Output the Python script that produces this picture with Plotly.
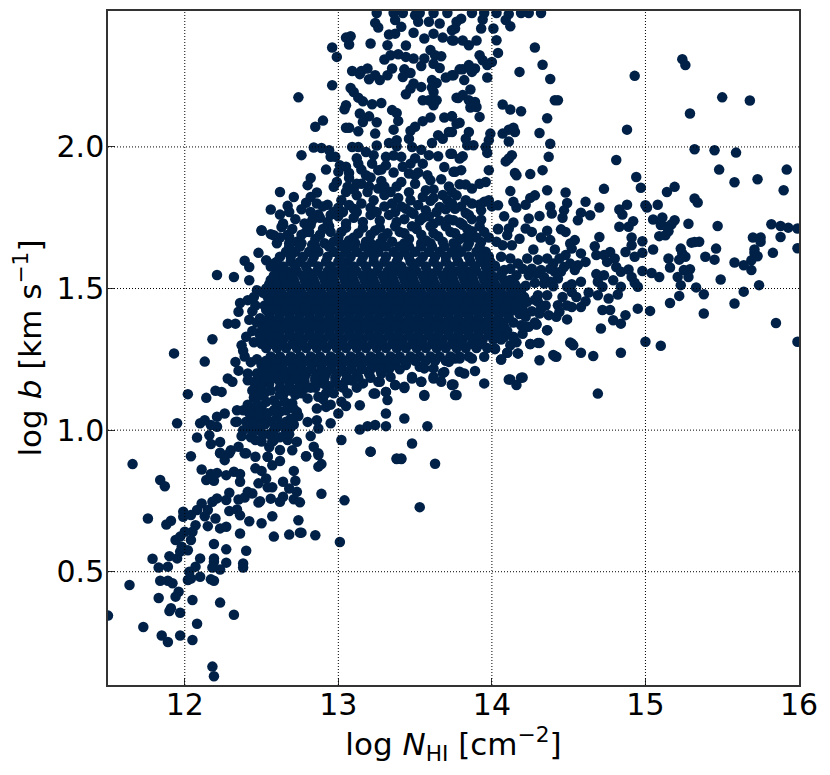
import plotly.graph_objects as go

# (log N_HI, log b), one list per region
far_right = [(15.48,1.92),(15.58,1.875),(15.73,1.886),(15.92,1.92),(15.90,1.847),(14.94,1.894),(14.97,1.856),(14.73,1.852),(15.19,1.859),(15.14,1.841),(15.32,1.818),(15.34,1.804),(15.08,1.796),(15.0,1.794),(15.01,1.786),(14.88,1.796),(14.83,1.779),(14.85,1.761),(14.70,1.786),(14.61,1.806),(14.64,1.759),(14.58,1.768),(14.56,1.741),(14.48,1.839),(14.49,1.802),(14.47,1.776),(14.46,1.75),(14.36,1.847),(14.28,1.829),(14.25,1.82),(14.22,1.796),(14.16,1.786),(14.14,1.806),(14.38,1.79),(14.39,1.765),(14.12,1.844),(14.08,1.755),(14.04,1.794),(14.0,1.79),(14.31,1.756),(14.24,1.747),(14.25,1.904),(14.16,1.9),(14.15,1.908),(14.33,1.918),(15.05,1.744),(15.11,1.751),(15.19,1.741),(15.17,1.727),(15.14,1.718),(15.10,1.724),(15.28,1.729),(15.47,1.721),(15.82,1.727),(15.88,1.721),(15.93,1.715),(15.99,1.712),(14.92,1.738),(14.89,1.718),(14.83,1.718),(14.48,1.7),(14.45,1.709),(14.36,1.704),(14.04,1.709),(14.70,1.682),(14.91,1.68),(14.98,1.667),(15.13,1.688),(15.09,1.685),(15.15,1.702),(15.30,1.662),(15.35,1.665),(15.32,1.664),(15.70,1.68),(15.75,1.68),(15.75,1.665),(15.88,1.682),(15.99,1.642),(15.83,1.626),(15.71,1.638),(15.71,1.626),(15.73,1.614),(15.69,1.6),(15.64,1.582),(15.58,1.592),(15.69,1.565),(15.46,1.641),(15.45,1.602),(15.39,1.612),(15.23,1.641),(15.24,1.624),(15.26,1.612),(15.22,1.602),(15.15,1.606),(15.16,1.574),(15.05,1.638),(14.98,1.626),(14.93,1.612),(14.87,1.629),(14.91,1.653),(15.29,1.568),(15.25,1.565),(15.28,1.541),(15.21,1.541),(15.23,1.512),(15.33,1.504),(15.22,1.474),(15.38,1.48),(15.49,1.532),(15.74,1.512),(15.64,1.489),(15.58,1.447),(15.38,1.412),(15.85,1.378),(15.99,1.312),(15.10,1.298),(15.0,1.312),(15.16,1.449),(15.03,1.421),(14.95,1.429),(15.09,1.541),(15.04,1.555),(14.98,1.562),(14.89,1.567),(14.91,1.541),(14.95,1.506),(14.93,1.52),(14.84,1.506),(14.82,1.479),(14.79,1.529),(14.73,1.547),(14.68,1.551),(14.69,1.524),(14.72,1.506),(14.69,1.476),(14.63,1.486),(14.58,1.524),(14.52,1.515),(14.49,1.506),(14.52,1.488),(14.61,1.455),(14.58,1.435),(14.52,1.435),(14.76,1.465),(14.72,1.424),(14.77,1.424),(14.79,1.388),(14.87,1.406),(14.84,1.376),(14.71,1.359),(14.51,1.309),(14.53,1.3),(14.30,1.308),(14.25,1.304),(14.36,1.353),(14.29,1.373),(14.40,1.265),(14.42,1.259),(14.58,1.273),(14.66,1.262),(14.84,1.273),(14.31,1.247),(14.17,1.271),(14.10,1.273),(14.06,1.249),(14.02,1.286),(14.69,1.129),(14.19,1.185),(14.11,1.179),(14.16,1.159),(13.95,1.165),(13.89,1.209),(13.82,1.2),(13.79,1.206),(13.75,1.161),(13.77,1.124)]

right_band = [(14.67,1.649),(14.68,1.618),(14.73,1.618),(14.77,1.629),(14.80,1.606),(14.75,1.594),(14.81,1.576),(14.84,1.559),(14.58,1.624),(14.61,1.594),(14.56,1.582),(14.54,1.671),(14.51,1.659),(14.52,1.641),(14.48,1.618),(14.41,1.638),(14.44,1.606),(14.51,1.588),(14.54,1.565),(14.47,1.576),(14.40,1.588),(14.41,1.559),(14.43,1.535),(14.38,1.524),(14.34,1.518),(14.40,1.508),(14.32,1.565),(14.36,1.606),(14.30,1.602),(14.23,1.606),(14.27,1.638),(14.38,1.671),(14.32,1.68),(14.26,1.7),(14.22,1.712),(14.18,1.676),(14.14,1.733),(14.11,1.712),(14.10,1.688),(14.13,1.653),(14.07,1.653),(14.03,1.665),(14.06,1.612),(14.12,1.606),(14.17,1.588),(14.08,1.565),(14.24,1.547),(14.29,1.553),(14.16,1.547),(14.30,1.476),(14.36,1.476),(14.30,1.453),(14.32,1.429),(14.31,1.412),(14.37,1.406),(14.43,1.441),(14.44,1.418),(14.49,1.391),(14.23,1.453),(14.22,1.4),(14.24,1.365),(14.19,1.37),(14.14,1.329),(14.08,1.335),(14.02,1.365),(14.02,1.58),(14.06,1.55),(14.12,1.57),(14.2,1.57),(14.26,1.57),(14.28,1.52),(14.34,1.54),(14.45,1.56),(14.38,1.57),(14.22,1.51),(14.28,1.46),(14.26,1.42),(14.28,1.38),(14.35,1.44),(14.2,1.34),(14.16,1.31),(14.12,1.3),(14.46,1.47),(14.42,1.4),(14.49,1.44),(14.55,1.47)]

core_edge = [(13.76,1.253),(13.72,1.241),(13.79,1.253),(13.87,1.253),(13.95,1.259),(14.02,1.288),(14.08,1.329),(14.14,1.329),(14.22,1.365),(14.29,1.374),(14.36,1.353),(14.25,1.304),(14.31,1.308),(14.17,1.271),(14.1,1.273),(14.06,1.249),(14.41,1.261),(14.52,1.306),(14.12,1.179),(14.2,1.186),(13.69,1.205),(13.74,1.161),(13.56,1.124),(13.54,1.171),(13.43,1.153),(13.37,1.159),(13.31,1.135),(13.24,1.129),(13.62,1.188),(13.56,1.218),(13.48,1.188),(13.34,1.188),(13.26,1.171)]

top_right = [(14.32,2.473),(14.24,2.473),(14.19,2.473),(14.12,2.426),(14.09,2.448),(14.11,2.469),(14.01,2.418),(14.03,2.377),(14.04,2.332),(14.28,2.351),(14.33,2.29),(14.18,2.265),(14.38,2.24),(14.93,2.251),(15.24,2.31),(15.26,2.289),(15.5,2.175),(15.68,2.164),(15.29,2.118),(14.88,2.061),(14.36,2.101),(14.41,2.165),(14.43,2.165),(14.07,2.15),(14.12,2.132),(14.19,2.126),(14.14,2.068),(14.15,2.053),(14.11,2.061),(14.07,2.047),(14.31,2.049),(14.11,2.019),(14.38,2.011),(15.32,1.992),(15.45,1.988),(15.59,1.98),(14.81,1.954),(14.37,1.965),(14.13,1.971),(14.11,1.959),(14.09,1.949),(13.99,2.047),(13.98,2.024),(13.96,2.0),(13.97,1.979),(13.97,2.245),(14.0,2.3),(13.97,2.289),(13.94,2.306),(13.92,2.324),(13.9,2.376),(13.85,2.359),(13.81,2.376),(13.75,2.376),(13.93,2.418),(13.94,2.45),(13.95,2.473),(13.87,2.473),(13.8,2.453),(13.77,2.442),(13.74,2.412),(14.03,2.473),(13.89,2.277),(13.85,2.289),(13.81,2.274),(13.87,2.265),(13.75,2.253),(13.82,2.236),(13.86,2.203),(13.81,2.183),(13.78,2.173),(13.85,2.165),(13.89,2.159),(13.9,2.141),(13.86,2.139),(13.92,2.106),(13.74,2.108),(13.79,2.085),(13.85,2.053),(13.83,2.029),(13.88,2.006),(13.84,2.006),(13.74,2.053),(13.74,1.976),(13.81,1.967),(13.79,1.959),(13.80,1.918),(13.76,1.912),(13.98,1.918),(13.96,1.876),(13.92,1.87),(13.87,1.853),(13.83,1.867),(13.79,1.868),(13.95,1.806),(13.98,1.812),(13.92,1.797),(13.93,1.776),(13.93,1.743),(13.83,1.812),(13.77,1.829),(13.74,1.841),(13.76,1.782),(13.83,1.767),(13.79,1.733),(13.87,1.702),(13.83,1.68),(13.93,1.664),(14.04,1.711)]

top_left = [(12.74,2.175),(12.96,2.351),(12.99,2.318),(12.96,2.218),(13.05,2.386),(13.08,2.391),(13.07,2.362),(13.21,2.365),(13.24,2.438),(13.26,2.422),(13.32,2.359),(13.33,2.397),(13.37,2.448),(13.41,2.424),(13.37,2.4),(13.44,2.358),(13.49,2.403),(13.56,2.383),(13.62,2.4),(13.68,2.386),(13.74,2.377),(13.76,2.418),(13.52,2.442),(13.59,2.442),(13.66,2.436),(13.5,2.465),(13.25,2.473),(13.36,2.473),(13.53,2.473),(13.62,2.473),(13.71,2.473),(13.42,2.473),(13.3,2.309),(13.34,2.324),(13.39,2.327),(13.44,2.318),(13.49,2.312),(13.54,2.286),(13.56,2.312),(13.6,2.342),(13.63,2.324),(13.67,2.32),(13.62,2.294),(13.66,2.279),(13.35,2.277),(13.32,2.253),(13.27,2.236),(13.24,2.253),(13.2,2.239),(13.19,2.277),(13.15,2.268),(13.14,2.257),(13.09,2.268),(13.43,2.274),(13.47,2.261),(13.42,2.247),(13.49,2.224),(13.54,2.212),(13.47,2.206),(13.44,2.186),(13.61,2.236),(13.64,2.226),(13.61,2.21),(13.62,2.194),(13.7,2.245),(13.74,2.253),(13.79,2.274),(13.08,2.208),(13.1,2.194),(13.13,2.174),(13.16,2.161),(13.22,2.151),(13.28,2.155),(13.55,2.165),(13.59,2.165),(13.64,2.165),(13.62,2.147),(13.77,2.174),(13.05,2.147),(13.04,2.133),(13.35,2.13),(13.38,2.12),(13.39,2.092),(13.36,2.061),(12.9,2.093),(12.85,2.071),(13.05,2.068),(13.07,2.068),(13.14,2.118),(13.2,2.108),(13.16,2.088),(13.13,2.055),(13.25,2.087),(13.24,2.047),(13.6,2.104),(13.55,2.091),(13.5,2.071),(13.47,2.057),(13.46,2.029),(13.69,2.104),(13.74,2.108),(13.77,2.082),(13.72,2.053),(13.65,2.041),(13.68,2.029),(13.61,2.014),(13.25,2.005),(13.33,2.014),(13.38,2.024),(13.38,2.002),(13.48,2.0),(12.84,1.998),(12.89,1.996),(12.94,1.988),(13.09,2.0),(13.13,2.0),(13.18,1.982),(12.76,1.971),(12.95,1.965),(12.92,1.92),(12.98,1.965),(13.01,1.935),(13.0,1.912),(13.07,1.908),(13.13,1.941),(13.15,1.92),(13.22,1.941),(13.23,1.971),(13.31,1.965),(13.31,1.935),(13.26,1.918),(13.41,1.965),(13.47,1.941),(13.59,1.971),(13.65,1.967),(13.73,1.976),(13.69,1.929),(13.75,1.912),(13.55,1.941),(13.21,1.892),(13.46,1.906),(13.67,1.886),(13.6,1.882),(12.82,1.89),(12.8,1.865),(12.97,1.859),(12.99,1.876),(13.06,1.859),(13.15,1.87),(12.62,1.841),(12.71,1.823),(12.86,1.839),(12.82,1.823),(12.79,1.803),(12.86,1.8),(12.67,1.792),(12.56,1.779),(12.62,1.761),(12.93,1.796),(12.97,1.77),(12.87,1.761),(12.83,1.741),(12.63,1.717),(12.5,1.706),(12.58,1.688),(12.81,1.7),(12.95,1.7),(13.02,1.812),(13.05,1.841),(13.12,1.829),(13.19,1.841),(13.26,1.853),(13.34,1.841),(13.41,1.876),(13.47,1.812),(13.57,1.776),(13.57,1.847),(13.55,1.823),(13.35,1.8),(13.23,1.812),(13.1,1.782),(13.44,1.782),(13.49,1.764),(13.66,1.788),(13.71,1.812),(13.75,1.741),(13.62,1.729)]

left_edge = [(11.93,1.271),(12.02,1.127),(11.95,1.024),(12.21,1.548),(12.32,1.541),(12.42,1.576),(12.39,1.598),(12.48,1.626),(12.42,1.529),(12.18,1.321),(12.13,1.242),(12.14,1.114),(12.2,1.139),(12.24,1.135),(12.28,1.376),(12.33,1.376),(12.35,1.418),(12.36,1.449),(12.41,1.459),(12.47,1.494),(12.53,1.6),(12.58,1.588),(12.5,1.704),(12.56,1.692),(12.64,1.724),(12.68,1.682),(12.28,1.182),(12.31,1.171),(12.33,1.241),(12.41,1.176),(12.1,1.024),(12.13,1.035),(12.21,1.047),(12.26,1.059),(12.21,1.012),(12.17,1.018),(12.33,1.029),(12.08,0.974),(12.16,0.982),(12.17,0.951),(12.23,0.958),(12.23,0.92),(12.3,0.929),(12.35,0.941),(12.37,0.979),(12.4,0.918),(12.46,0.965),(12.54,0.906),(12.58,0.965),(12.7,0.929),(12.73,0.959),(12.82,0.979),(12.84,0.941),(12.87,0.912),(12.79,0.908),(12.8,1.029),(12.86,1.035),(12.87,1.006),(12.95,1.024),(13.02,0.965),(13.0,1.059),(13.14,1.088),(13.05,1.085),(13.31,1.059),(13.43,1.041),(13.58,1.014),(13.14,1.002),(13.19,1.014),(13.24,1.018),(13.31,1.014),(13.48,0.953),(13.21,0.924),(13.38,0.9),(13.41,0.9),(13.32,1.106),(13.27,1.171),(13.23,1.129),(13.31,1.135),(13.37,1.159),(13.43,1.149),(13.48,1.182),(13.54,1.171),(13.62,1.182),(13.67,1.171),(13.68,1.202),(13.74,1.159),(13.76,1.124),(13.56,1.121),(13.72,1.247),(13.62,1.218),(13.53,1.224),(12.86,1.076),(12.92,1.082),(12.87,1.118),(12.8,1.112),(12.73,1.065),(12.42,1.39),(12.44,1.35),(12.37,1.3),(12.39,1.26),(12.43,1.24),(12.35,1.21),(12.47,1.2),(12.38,1.28),(12.4,1.33),(12.45,1.47),(12.44,1.42),(12.47,1.38),(12.45,1.31),(12.47,1.25),(12.46,1.44)]

bottom = [(11.66,0.88),(11.84,0.824),(11.87,0.802),(11.76,0.688),(11.88,0.667),(11.91,0.68),(11.99,0.712),(11.99,0.694),(12.04,0.908),(12.11,0.861),(12.14,0.824),(12.19,0.821),(12.17,0.845),(12.21,0.849),(12.27,0.841),(12.26,0.894),(12.32,0.853),(12.36,0.845),(12.36,0.818),(12.23,0.918),(12.29,0.918),(12.39,0.918),(12.46,0.906),(12.54,0.906),(12.57,0.876),(12.62,0.891),(12.46,0.865),(12.5,0.856),(12.53,0.829),(12.48,0.812),(12.54,0.798),(12.57,0.798),(12.64,0.818),(12.71,0.856),(12.72,0.821),(12.68,0.794),(12.73,0.782),(12.89,0.775),(13.04,0.752),(13.21,0.924),(13.38,0.898),(13.41,0.898),(13.63,0.881),(13.53,0.728),(12.79,0.908),(12.87,0.918),(12.89,0.88),(12.87,0.871),(12.29,0.779),(12.21,0.759),(12.27,0.753),(12.18,0.747),(12.11,0.741),(12.15,0.718),(12.13,0.696),(12.08,0.718),(12.04,0.7),(12.29,0.714),(12.34,0.72),(12.36,0.699),(12.2,0.688),(12.07,0.664),(12.15,0.661),(12.23,0.653),(12.27,0.659),(12.05,0.641),(12.04,0.612),(12.0,0.641),(11.97,0.624),(11.94,0.612),(11.98,0.588),(12.02,0.576),(11.9,0.555),(11.95,0.547),(11.97,0.571),(12.1,0.547),(12.19,0.598),(12.27,0.579),(12.4,0.574),(12.36,0.635),(12.42,0.678),(12.5,0.671),(12.57,0.696),(12.74,0.682),(12.58,0.624),(12.68,0.631),(12.75,0.638),(12.76,0.638),(12.85,0.629),(13.01,0.605),(12.35,0.755),(12.39,0.762),(12.41,0.782),(12.44,0.776),(12.48,0.744),(12.49,0.749),(12.56,0.758),(12.62,0.747),(12.64,0.765),(12.71,0.756),(12.75,0.745),(11.79,0.546),(11.83,0.515),(11.89,0.518),(12.19,0.547),(12.19,0.535),(12.27,0.532),(12.23,0.508),(12.18,0.515),(12.38,0.529),(12.38,0.515),(12.07,0.518),(12.03,0.5),(12.04,0.476),(12.02,0.471),(12.1,0.482),(12.17,0.473),(12.19,0.468),(11.84,0.468),(11.89,0.468),(11.92,0.459),(11.64,0.453),(11.96,0.429),(11.94,0.412),(11.83,0.407),(12.05,0.4),(12.23,0.391),(11.91,0.371),(11.9,0.361),(11.97,0.355),(12.32,0.348),(11.5,0.345),(11.73,0.305),(12.08,0.316),(11.85,0.275),(11.89,0.252),(11.97,0.275),(12.05,0.259),(12.18,0.165),(12.19,0.131)]

# scattered points above the solid part
upper_loose = [(12.6,1.66),(12.67,1.69),(12.73,1.665),(12.79,1.70),(12.85,1.675),(12.9,1.71),(12.97,1.665),(13.02,1.70),(13.07,1.67),(13.13,1.695),(13.18,1.665),(13.24,1.705),(13.29,1.68),(13.35,1.665),(13.4,1.7),(13.46,1.675),(13.51,1.71),(13.57,1.67),(13.62,1.695),(13.68,1.665),(13.73,1.70),(13.79,1.675),(13.84,1.71),(13.9,1.68),(13.95,1.70),(12.64,1.73),(12.72,1.745),(12.78,1.73),(12.88,1.75),(12.93,1.735),(13.0,1.755),(13.05,1.73),(13.1,1.75),(13.16,1.735),(13.21,1.76),(13.27,1.74),(13.33,1.76),(13.38,1.735),(13.43,1.745),(13.53,1.74),(13.59,1.755),(13.66,1.74),(13.72,1.745),(13.8,1.73),(13.87,1.745),(12.76,1.78),(12.9,1.79),(13.0,1.785),(13.07,1.795),(13.15,1.8),(13.21,1.785),(13.3,1.79),(13.39,1.82),(13.41,1.79),(13.52,1.795),(13.6,1.81),(13.68,1.83),(13.8,1.79),(13.87,1.8),(13.3,1.83),(13.12,1.87),(13.38,1.86),(13.5,1.87),(13.62,1.85),(13.72,1.86),(13.28,1.88),(13.07,1.89),(13.36,1.91),(13.52,1.91),(13.58,1.9)]

upper_fill = [(12.62,1.68),(12.7,1.71),(12.76,1.69),(12.82,1.725),(12.88,1.69),(12.94,1.72),(13.0,1.68),(13.05,1.715),(13.1,1.68),(13.16,1.715),(13.21,1.69),(13.27,1.715),(13.32,1.695),(13.37,1.72),(13.43,1.695),(13.48,1.72),(13.54,1.69),(13.6,1.72),(13.65,1.685),(13.7,1.72),(13.76,1.695),(13.81,1.725),(13.86,1.69),(13.92,1.72),(13.98,1.68),(12.68,1.66),(12.76,1.66),(12.83,1.655),(12.91,1.66),(13.04,1.655),(13.11,1.66),(13.21,1.66),(13.27,1.66),(13.43,1.66),(13.54,1.66),(13.6,1.66),(13.75,1.66),(13.85,1.66),(12.68,1.77),(12.82,1.77),(12.95,1.76),(13.03,1.77),(13.12,1.77),(13.25,1.77),(13.37,1.77),(13.47,1.77),(13.55,1.75),(13.64,1.77),(13.7,1.78),(13.85,1.76),(13.05,1.93),(13.18,1.9),(13.28,1.92),(13.42,1.93),(13.5,1.9),(13.3,1.86),(13.2,1.86),(13.1,1.85),(13.46,1.84),(13.62,1.82),(13.74,1.8),(13.12,1.96),(13.36,1.97),(13.5,1.96),(13.54,1.99)]

# bottom of the lobe under the core, uneven edge
lobe = [(12.38,1.07),(12.44,1.045),(12.5,1.08),(12.56,1.03),(12.62,1.065),(12.69,1.04),(12.34,1.03),(12.42,1.01),(12.48,1.0),(12.55,0.985),(12.6,1.01),(12.66,0.995),(12.71,1.02),(12.74,1.05),(12.45,1.115),(12.52,1.13),(12.58,1.105),(12.64,1.125),(12.7,1.095),(12.76,1.13),(12.82,1.15),(12.41,1.09),(12.47,1.155),(12.55,1.165),(12.62,1.15),(12.68,1.175),(12.75,1.165),(12.9,1.165),(12.97,1.13),(13.03,1.15),(13.09,1.175),(12.95,1.09),(13.02,1.1),(12.67,0.965),(12.5,0.96),(12.43,0.975),(12.62,0.93),(12.55,0.94),(12.47,1.03),(12.52,1.05),(12.6,1.09),(12.66,1.03),(12.34,1.07),(12.44,1.14),(12.48,1.12)]

lobe_fill = [(12.46,1.07),(12.53,1.1),(12.58,1.07),(12.65,1.1),(12.72,1.125),(12.79,1.15),(12.85,1.15),(12.5,1.145),(12.56,1.14),(12.62,1.125),(12.68,1.14),(12.74,1.15),(12.47,1.09),(12.42,1.06),(12.48,1.055),(12.54,1.06),(12.6,1.045),(12.66,1.07),(12.71,1.075),(12.4,1.03),(12.45,1.02),(12.52,1.02),(12.58,1.0),(12.63,1.02),(12.69,1.01),(12.38,1.0),(12.44,0.995),(12.51,0.985),(12.57,0.96),(12.62,0.975),(12.68,0.985),(12.92,1.13),(13.0,1.16),(13.06,1.13),(12.9,1.11),(12.94,1.15),(13.12,1.15),(13.16,1.165),(12.72,1.18),(12.78,1.17),(12.85,1.175),(12.92,1.16),(12.98,1.17),(13.05,1.175),(12.5,1.17),(12.56,1.18),(12.62,1.17),(12.68,1.155),(12.41,1.2),(12.45,1.17)]

# dense part of the cloud, written row by row: b values and the N values in each row
core_b = [1.56, 1.53, 1.50, 1.47, 1.44, 1.41, 1.38, 1.35, 1.32, 1.29, 1.26,
          1.545, 1.515, 1.485, 1.455, 1.425, 1.395, 1.365, 1.335, 1.305, 1.275]
core_n = [
    [12.6,12.67,12.73,12.8,12.86,12.93,12.99,13.06,13.12,13.19,13.25,13.32,13.38,13.45,13.51,13.58,13.64,13.71,13.77,13.84,13.9,13.97],
    [12.56,12.62,12.65,12.71,12.78,12.84,12.91,12.97,13.04,13.1,13.17,13.23,13.3,13.36,13.43,13.49,13.56,13.62,13.69,13.75,13.82,13.88,13.95,14.01,14.08,14.12],
    [12.53,12.58,12.62,12.69,12.75,12.82,12.88,12.95,13.01,13.08,13.14,13.21,13.27,13.34,13.4,13.47,13.53,13.6,13.66,13.73,13.79,13.86,13.92,13.99,14.05,14.12,14.18],
    [12.54,12.6,12.66,12.73,12.79,12.86,12.92,12.99,13.05,13.12,13.18,13.25,13.31,13.38,13.44,13.51,13.57,13.64,13.7,13.77,13.83,13.9,13.96,14.03,14.09,14.16,14.21],
    [12.52,12.58,12.64,12.71,12.77,12.84,12.9,12.97,13.03,13.1,13.16,13.23,13.29,13.36,13.42,13.49,13.55,13.62,13.68,13.75,13.81,13.88,13.94,14.01,14.07,14.14,14.2],
    [12.55,12.62,12.68,12.75,12.81,12.88,12.94,13.01,13.07,13.14,13.2,13.27,13.33,13.4,13.46,13.53,13.59,13.66,13.72,13.79,13.85,13.92,13.98,14.05,14.11,14.18],
    [12.52,12.58,12.64,12.71,12.77,12.84,12.9,12.97,13.03,13.1,13.16,13.23,13.29,13.36,13.42,13.49,13.55,13.62,13.68,13.75,13.81,13.88,13.94,14.01,14.07,14.14],
    [12.5,12.56,12.62,12.68,12.75,12.81,12.88,12.94,13.01,13.07,13.14,13.2,13.27,13.33,13.4,13.46,13.53,13.59,13.66,13.72,13.79,13.85,13.92,13.98,14.05,14.1],
    [12.52,12.58,12.64,12.71,12.77,12.84,12.9,12.97,13.03,13.1,13.16,13.23,13.29,13.36,13.42,13.49,13.55,13.62,13.68,13.75,13.81,13.88,13.94,14.01,14.06],
    [12.53,12.6,12.66,12.73,12.79,12.86,12.92,12.99,13.05,13.12,13.18,13.25,13.31,13.38,13.44,13.51,13.57,13.64,13.7,13.77,13.83,13.9,13.97],
    [12.56,12.62,12.69,12.75,12.82,12.88,12.95,13.01,13.08,13.14,13.21,13.27,13.34,13.4,13.47,13.53,13.6,13.66,13.73,13.79,13.85],
    [12.58,12.64,12.7,12.77,12.83,12.9,12.96,13.03,13.09,13.16,13.22,13.29,13.35,13.42,13.48,13.55,13.61,13.68,13.74,13.81,13.87,13.94,14.0,14.06],
    [12.55,12.6,12.66,12.72,12.79,12.85,12.92,12.98,13.05,13.11,13.18,13.24,13.31,13.37,13.44,13.5,13.57,13.63,13.7,13.76,13.83,13.89,13.96,14.02,14.09,14.15],
    [12.51,12.57,12.63,12.7,12.76,12.83,12.89,12.96,13.02,13.09,13.15,13.22,13.28,13.35,13.41,13.48,13.54,13.61,13.67,13.74,13.8,13.87,13.93,14.0,14.06,14.13,14.19],
    [12.55,12.61,12.68,12.74,12.81,12.87,12.94,13.0,13.07,13.13,13.2,13.26,13.33,13.39,13.46,13.52,13.59,13.65,13.72,13.78,13.85,13.91,13.98,14.04,14.11,14.17],
    [12.53,12.59,12.66,12.72,12.79,12.85,12.92,12.98,13.05,13.11,13.18,13.24,13.31,13.37,13.44,13.5,13.57,13.63,13.7,13.76,13.83,13.89,13.96,14.02,14.09,14.15,14.2],
    [12.49,12.55,12.61,12.68,12.74,12.81,12.87,12.94,13.0,13.07,13.13,13.2,13.26,13.33,13.39,13.46,13.52,13.59,13.65,13.72,13.78,13.85,13.91,13.98,14.04,14.11],
    [12.53,12.59,12.66,12.72,12.79,12.85,12.92,12.98,13.05,13.11,13.18,13.24,13.31,13.37,13.44,13.5,13.57,13.63,13.7,13.76,13.83,13.89,13.96,14.02,14.08],
    [12.49,12.55,12.61,12.68,12.74,12.81,12.87,12.94,13.0,13.07,13.13,13.2,13.26,13.33,13.39,13.46,13.52,13.59,13.65,13.72,13.78,13.85,13.91,13.98,14.03],
    [12.5,12.57,12.63,12.7,12.76,12.83,12.89,12.96,13.02,13.09,13.15,13.22,13.28,13.35,13.41,13.48,13.54,13.61,13.67,13.74,13.8,13.87,13.93],
]

# looser part just above the core, with holes left in it
upper_b = [1.595, 1.63, 1.578, 1.612, 1.648]
upper_n = [
    [12.6,12.69,12.75,12.83,12.92,13.0,13.06,13.15,13.23,13.3,13.38,13.47,13.53,13.62,13.7,13.78,13.86,13.93,13.99],
    [12.66,12.72,12.81,12.87,12.97,13.05,13.12,13.2,13.26,13.36,13.43,13.5,13.59,13.66,13.74,13.8,13.9,13.96],
    [12.56,12.64,12.72,12.79,12.87,12.95,13.03,13.1,13.18,13.26,13.34,13.41,13.49,13.57,13.65,13.73,13.81,13.89,13.96,14.02],
    [12.62,12.69,12.77,12.84,12.93,13.01,13.08,13.16,13.23,13.31,13.39,13.46,13.55,13.63,13.7,13.77,13.85,13.92,13.98],
    [12.68,12.75,12.85,12.94,13.02,13.09,13.17,13.24,13.31,13.4,13.46,13.54,13.61,13.69,13.77,13.84,13.92],
]

# upper end of the lobe running down and left under the core
lower_b = [1.23, 1.20, 1.245, 1.215, 1.185]
lower_n = [
    [12.5,12.56,12.63,12.7,12.76,12.83,12.89,12.96,13.02,13.09,13.15,13.22,13.29,13.36,13.44],
    [12.48,12.54,12.6,12.67,12.73,12.79,12.86,12.92,12.99,13.05,13.12,13.2,13.28],
    [12.53,12.6,12.66,12.73,12.79,12.86,12.92,12.99,13.05,13.12,13.18,13.25,13.31,13.38,13.44,13.5,13.57,13.63,13.7],
    [12.52,12.58,12.64,12.7,12.76,12.82,12.89,12.95,13.02,13.08,13.15,13.21,13.27,13.33,13.4],
    [12.53,12.59,12.65,12.72,12.78,12.85,12.91,12.98,13.06,13.13,13.21],
]

x_ticks = [12, 13, 14, 15, 16]
y_ticks = [0.5, 1.0, 1.5, 2.0]

log_n = []
log_b = []
for group in [far_right, right_band, core_edge, top_right, top_left, left_edge, bottom, upper_loose, upper_fill, lobe, lobe_fill]:
    for n, b in group:
        log_n.append(n)
        log_b.append(b)
for levels, rows in [(core_b, core_n), (upper_b, upper_n), (lower_b, lower_n)]:
    for b, row in zip(levels, rows):
        for n in row:
            log_n.append(n)
            log_b.append(b)

fig = go.Figure()
fig.add_trace(go.Scatter(x=log_n, y=log_b, mode="markers",
                         marker=dict(size=10.5, color="#002147", line=dict(width=0))))

# the grid sits on top of the points in the original
for v in x_ticks[:-1]:
    fig.add_vline(x=v, line=dict(color="black", width=1, dash="1px,2px"), layer="above")
for v in y_ticks:
    fig.add_hline(y=v, line=dict(color="black", width=1, dash="1px,2px"), layer="above")

axis_style = dict(showgrid=False, zeroline=False, showline=True, mirror=True,
                  linecolor="#333333", linewidth=1.5, ticks="inside", ticklen=7,
                  tickcolor="#333333", tickwidth=1, layer="above traces",
                  tickfont=dict(size=30, color="black"))

fig.update_xaxes(range=[11.5, 16], tickvals=x_ticks, ticktext=[str(v) for v in x_ticks],
                 ticklabelstandoff=-8,
                 title=dict(text="log <i>N</i><sub>HI</sub> [cm<sup>−2</sup>]", font=dict(size=31, color="black"), standoff=4),
                 **axis_style)
fig.update_yaxes(range=[0.1, 2.48], tickvals=y_ticks, ticktext=["0.5", "1.0", "1.5", "2.0"],
                 ticklabelstandoff=-4,
                 title=dict(text="log <i>b</i> [km s<sup>−1</sup>]", font=dict(size=31, color="black"), standoff=8),
                 **axis_style)

# the page adds 8px of body margin, so the margins are 8px off the picture's
fig.update_layout(width=830, height=775, margin=dict(l=99.5, r=38.5, t=3, b=98, autoexpand=False),
                  font=dict(family="DejaVu Sans"), paper_bgcolor="white", plot_bgcolor="white",
                  showlegend=False)

fig.write_html("out.html")
